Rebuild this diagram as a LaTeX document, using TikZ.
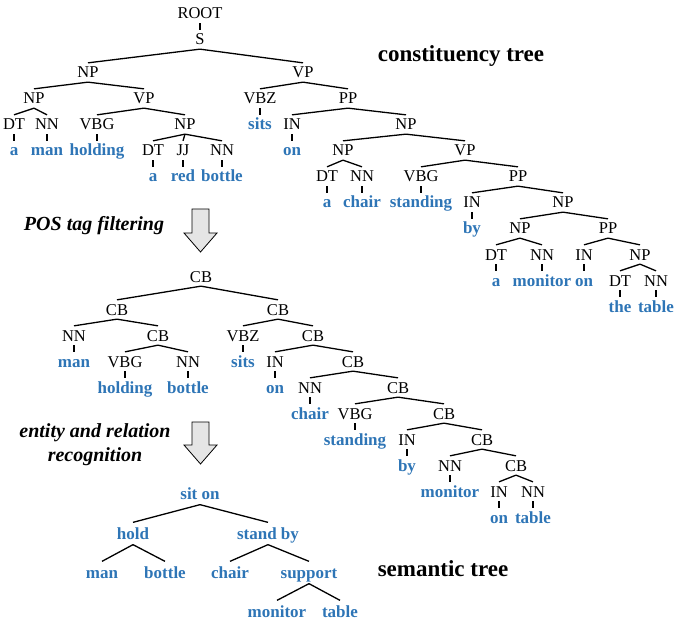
\documentclass[tikz,border=0pt]{standalone}
\usepackage{fontspec}
\setmainfont{Liberation Serif}
\definecolor{wordblue}{RGB}{46,117,182}

\begin{document}
\begin{tikzpicture}[x=1pt, y=-1pt, line width=1.3pt,
    tag/.style={anchor=base, font=\fontsize{16.5}{18}\selectfont, text height=11pt, text depth=0pt, inner xsep=1pt, inner ysep=3.5pt},
    word/.style={tag, font=\fontsize{17}{19}\selectfont\bfseries, text=wordblue},
    sem/.style={word, inner ysep=5pt},
    title/.style={anchor=base, font=\fontsize{23}{27}\selectfont\bfseries},
    note/.style={font=\fontsize{20}{24}\selectfont\bfseries\itshape, align=center},
    blockarrow/.style={line width=0.8pt, fill=black!10, line join=miter}]
    \useasboundingbox (0,0) rectangle (674,620);

    % Constituency tree
    \node(100) at (200,19) [tag] {ROOT};
    \node(101) at (200,45) [tag] {S};
    \node(102) at (88,78) [tag] {NP};
    \node(103) at (303,78) [tag] {VP};
    \node(104) at (34,104) [tag] {NP};
    \node(105) at (144,104) [tag] {VP};
    \node(106) at (260,104) [tag] {VBZ};
    \node(107) at (348,104) [tag] {PP};
    \node(108) at (14,130) [tag] {DT};
    \node(109) at (47,130) [tag] {NN};
    \node(110) at (97,130) [tag] {VBG};
    \node(111) at (185,130) [tag] {NP};
    \node(112) at (260,130) [word] {sits};
    \node(113) at (292,130) [tag] {IN};
    \node(114) at (406,130) [tag] {NP};
    \node(115) at (14,156) [word] {a};
    \node(116) at (47,156) [word] {man};
    \node(117) at (97,156) [word] {holding};
    \node(118) at (153,156) [tag] {DT};
    \node(119) at (183,156) [tag] {JJ};
    \node(120) at (222,156) [tag] {NN};
    \node(121) at (292,156) [word] {on};
    \node(122) at (343,156) [tag] {NP};
    \node(123) at (465,156) [tag] {VP};
    \node(124) at (153,182) [word] {a};
    \node(125) at (183,182) [word] {red};
    \node(126) at (222,182) [word] {bottle};
    \node(127) at (327,182) [tag] {DT};
    \node(128) at (362,182) [tag] {NN};
    \node(129) at (421,182) [tag] {VBG};
    \node(130) at (518,182) [tag] {PP};
    \node(131) at (327,208) [word] {a};
    \node(132) at (362,208) [word] {chair};
    \node(133) at (421,208) [word] {standing};
    \node(134) at (472,208) [tag] {IN};
    \node(135) at (563,208) [tag] {NP};
    \node(136) at (472,234) [word] {by};
    \node(137) at (520,234) [tag] {NP};
    \node(138) at (608,234) [tag] {PP};
    \node(139) at (496,260) [tag] {DT};
    \node(140) at (542,260) [tag] {NN};
    \node(141) at (584,260) [tag] {IN};
    \node(142) at (640,260) [tag] {NP};
    \node(143) at (496,286) [word] {a};
    \node(144) at (542,286) [word] {monitor};
    \node(145) at (584,286) [word] {on};
    \node(146) at (620,286) [tag] {DT};
    \node(147) at (656,286) [tag] {NN};
    \node(148) at (620,312) [word] {the};
    \node(149) at (656,312) [word] {table};

    \draw (100.south) -- (101.north);
    \draw (101.south) -- (102.north);
    \draw (101.south) -- (103.north);
    \draw (102.south) -- (104.north);
    \draw (102.south) -- (105.north);
    \draw (103.south) -- (106.north);
    \draw (103.south) -- (107.north);
    \draw (104.south) -- (108.north);
    \draw (104.south) -- (109.north);
    \draw (105.south) -- (110.north);
    \draw (105.south) -- (111.north);
    \draw (106.south) -- (112.north);
    \draw (107.south) -- (113.north);
    \draw (107.south) -- (114.north);
    \draw (108.south) -- (115.north);
    \draw (109.south) -- (116.north);
    \draw (110.south) -- (117.north);
    \draw (111.south) -- (118.north);
    \draw (111.south) -- (119.north);
    \draw (111.south) -- (120.north);
    \draw (113.south) -- (121.north);
    \draw (114.south) -- (122.north);
    \draw (114.south) -- (123.north);
    \draw (118.south) -- (124.north);
    \draw (119.south) -- (125.north);
    \draw (120.south) -- (126.north);
    \draw (122.south) -- (127.north);
    \draw (122.south) -- (128.north);
    \draw (123.south) -- (129.north);
    \draw (123.south) -- (130.north);
    \draw (127.south) -- (131.north);
    \draw (128.south) -- (132.north);
    \draw (129.south) -- (133.north);
    \draw (130.south) -- (134.north);
    \draw (130.south) -- (135.north);
    \draw (134.south) -- (136.north);
    \draw (135.south) -- (137.north);
    \draw (135.south) -- (138.north);
    \draw (137.south) -- (139.north);
    \draw (137.south) -- (140.north);
    \draw (138.south) -- (141.north);
    \draw (138.south) -- (142.north);
    \draw (139.south) -- (143.north);
    \draw (140.south) -- (144.north);
    \draw (141.south) -- (145.north);
    \draw (142.south) -- (146.north);
    \draw (142.south) -- (147.north);
    \draw (146.south) -- (148.north);
    \draw (147.south) -- (149.north);

    \node(190) at (461,62) [title] {constituency tree};

    % POS tag filtering
    \node(191) at (94,231) [note, anchor=base] {POS tag filtering};
    \draw [blockarrow] (192,209) -- ++(17,0) -- ++(0,24) -- ++(8,0) -- ++(-16.5,19) -- ++(-16.5,-19) -- ++(8,0) -- cycle;

    % Filtered tree
    \node(200) at (201,282) [tag] {CB};
    \node(201) at (117,315) [tag] {CB};
    \node(202) at (278,315) [tag] {CB};
    \node(203) at (74,341) [tag] {NN};
    \node(204) at (158,341) [tag] {CB};
    \node(205) at (243,341) [tag] {VBZ};
    \node(206) at (313,341) [tag] {CB};
    \node(207) at (74,367) [word] {man};
    \node(208) at (125,367) [tag] {VBG};
    \node(209) at (188,367) [tag] {NN};
    \node(210) at (243,367) [word] {sits};
    \node(211) at (275,367) [tag] {IN};
    \node(212) at (353,367) [tag] {CB};
    \node(213) at (125,393) [word] {holding};
    \node(214) at (188,393) [word] {bottle};
    \node(215) at (275,393) [word] {on};
    \node(216) at (310,393) [tag] {NN};
    \node(217) at (398,393) [tag] {CB};
    \node(218) at (310,419) [word] {chair};
    \node(219) at (355,419) [tag] {VBG};
    \node(220) at (444,419) [tag] {CB};
    \node(221) at (355,445) [word] {standing};
    \node(222) at (407,445) [tag] {IN};
    \node(223) at (482,445) [tag] {CB};
    \node(224) at (407,471) [word] {by};
    \node(225) at (450,471) [tag] {NN};
    \node(226) at (516,471) [tag] {CB};
    \node(227) at (450,497) [word] {monitor};
    \node(228) at (499,497) [tag] {IN};
    \node(229) at (533,497) [tag] {NN};
    \node(230) at (499,523) [word] {on};
    \node(231) at (533,523) [word] {table};

    \draw (200.south) -- (201.north);
    \draw (200.south) -- (202.north);
    \draw (201.south) -- (203.north);
    \draw (201.south) -- (204.north);
    \draw (202.south) -- (205.north);
    \draw (202.south) -- (206.north);
    \draw (203.south) -- (207.north);
    \draw (204.south) -- (208.north);
    \draw (204.south) -- (209.north);
    \draw (205.south) -- (210.north);
    \draw (206.south) -- (211.north);
    \draw (206.south) -- (212.north);
    \draw (208.south) -- (213.north);
    \draw (209.south) -- (214.north);
    \draw (211.south) -- (215.north);
    \draw (212.south) -- (216.north);
    \draw (212.south) -- (217.north);
    \draw (216.south) -- (218.north);
    \draw (217.south) -- (219.north);
    \draw (217.south) -- (220.north);
    \draw (219.south) -- (221.north);
    \draw (220.south) -- (222.north);
    \draw (220.south) -- (223.north);
    \draw (222.south) -- (224.north);
    \draw (223.south) -- (225.north);
    \draw (223.south) -- (226.north);
    \draw (225.south) -- (227.north);
    \draw (226.south) -- (228.north);
    \draw (226.south) -- (229.north);
    \draw (228.south) -- (230.north);
    \draw (229.south) -- (231.north);

    % entity and relation recognition
    \node(291) at (95,445) [note] {entity and relation\\recognition};
    \draw [blockarrow] (192,422) -- ++(17,0) -- ++(0,23) -- ++(8,0) -- ++(-16.5,19) -- ++(-16.5,-19) -- ++(8,0) -- cycle;

    % Semantic tree
    \node(300) at (200,499) [sem] {sit on};
    \node(301) at (133,539) [sem] {hold};
    \node(302) at (268,539) [sem] {stand by};
    \node(303) at (102,578) [sem] {man};
    \node(304) at (165,578) [sem] {bottle};
    \node(305) at (230,578) [sem] {chair};
    \node(306) at (309,578) [sem] {support};
    \node(307) at (277,617) [sem] {monitor};
    \node(308) at (340,617) [sem] {table};

    \draw (300.south) -- (301.north);
    \draw (300.south) -- (302.north);
    \draw (301.south) -- (303.north);
    \draw (301.south) -- (304.north);
    \draw (302.south) -- (305.north);
    \draw (302.south) -- (306.north);
    \draw (306.south) -- (307.north);
    \draw (306.south) -- (308.north);

    \node(390) at (443,576) [title] {semantic tree};
\end{tikzpicture}
\end{document}
